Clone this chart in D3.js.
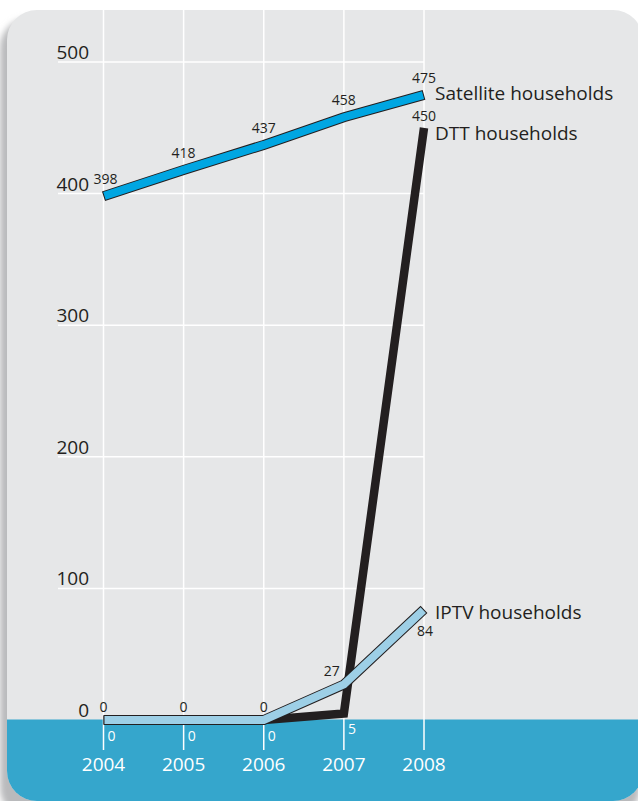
<!DOCTYPE html>
<html>
<head>
<meta charset="utf-8">
<script src="https://cdn.jsdelivr.net/npm/d3@7"></script>
<style>
  html, body { margin: 0; padding: 0; background: #fff; }
  svg { display: block; font-family: "Open Sans", sans-serif; }
</style>
</head>
<body>
<div id="chart"></div>
<script>
// 数据
const years = ["2004", "2005", "2006", "2007", "2008"];
const satellite = [398, 418, 437, 458, 475];
const dtt = [0, 0, 0, 5, 450];
const iptv = [0, 0, 0, 27, 84];
const yTicks = [0, 100, 200, 300, 400, 500];
const seriesNames = ["Satellite households", "DTT households", "IPTV households"];

const width = 638, height = 801;

const svg = d3.select("#chart").append("svg")
    .attr("width", width)
    .attr("height", height);

const defs = svg.append("defs");
defs.append("filter").attr("id", "blur")
    .attr("x", "-20%").attr("y", "-20%").attr("width", "140%").attr("height", "140%")
    .append("feGaussianBlur").attr("stdDeviation", 3);
defs.append("clipPath").attr("id", "panelClip")
    .append("rect")
    .attr("x", 7).attr("y", 10)
    .attr("width", 636).attr("height", 791)
    .attr("rx", 30);

// 比例尺
const x = d3.scalePoint().domain(years).range([103.5, 424]);
const y = d3.scaleLinear().domain([0, 500]).range([720, 62]);

// 背景面板 + 阴影
svg.append("rect")
    .attr("x", 0).attr("y", 18)
    .attr("width", 640).attr("height", 800)
    .attr("rx", 30)
    .attr("fill", "#b9babc")
    .attr("filter", "url(#blur)");

const panel = svg.append("g").attr("clip-path", "url(#panelClip)");
panel.append("rect")
    .attr("x", 7).attr("y", 10)
    .attr("width", 640).attr("height", 800)
    .attr("fill", "#e6e7e8");
panel.append("rect")
    .attr("x", 7).attr("y", y(0) - 0.5)
    .attr("width", 640).attr("height", 100)
    .attr("fill", "#35a6cc");

// 网格线
svg.append("g").selectAll("line.h")
    .data(yTicks.filter(d => d > 0))
    .join("line")
    .attr("x1", 58).attr("x2", x("2008"))
    .attr("y1", d => y(d)).attr("y2", d => y(d))
    .attr("stroke", "#fff").attr("stroke-width", 1.5);

svg.append("g").selectAll("line.v")
    .data(years)
    .join("line")
    .attr("x1", d => x(d)).attr("x2", d => x(d))
    .attr("y1", 10).attr("y2", 750)
    .attr("stroke", "#fff").attr("stroke-width", 1.5);

// Y 轴标签
svg.append("g").selectAll("text")
    .data(yTicks)
    .join("text")
    .attr("x", 89)
    .attr("y", d => y(d) - 3)
    .attr("text-anchor", "end")
    .attr("font-size", 19)
    .attr("fill", "#231f20")
    .text(d => d);

// X 轴标签
svg.append("g").selectAll("text")
    .data(years)
    .join("text")
    .attr("x", d => x(d))
    .attr("y", 771)
    .attr("text-anchor", "middle")
    .attr("font-size", 19)
    .attr("fill", "#fff")
    .text(d => d);

// 带描边的粗线
function drawLine(values, fill, outline) {
    const pts = values.map((v, i) => [x(years[i]), y(v)]);
    const g = svg.append("g");
    g.append("path")
        .attr("d", d3.line()(pts))
        .attr("fill", "none")
        .attr("stroke", outline ? "#231f20" : fill)
        .attr("stroke-width", outline ? 10 : 8.5)
        .attr("stroke-linejoin", "miter")
        .attr("stroke-linecap", "butt");
    if (outline) {
        // 两端缩进一点，让端头也有描边
        const inner = pts.map(p => p.slice());
        const shrink = (a, b) => {
            const dx = b[0] - a[0], dy = b[1] - a[1];
            const len = Math.hypot(dx, dy);
            a[0] += dx / len; a[1] += dy / len;
        };
        shrink(inner[0], pts[1]);
        shrink(inner[inner.length - 1], pts[pts.length - 2]);
        g.append("path")
            .attr("d", d3.line()(inner))
            .attr("fill", "none")
            .attr("stroke", fill)
            .attr("stroke-width", 8)
            .attr("stroke-linejoin", "miter")
            .attr("stroke-linecap", "butt");
    }
}

drawLine(dtt, "#231f20", false);
drawLine(iptv, "#9dcfe6", true);
drawLine(satellite, "#00a6e2", true);

// 数值标签
const labels = svg.append("g").attr("font-size", 14);

labels.selectAll("text.sat")
    .data(satellite)
    .join("text")
    .attr("x", (d, i) => x(years[i]) + (i === 0 ? 2 : 0))
    .attr("y", d => y(d) - 12)
    .attr("text-anchor", "middle")
    .attr("fill", "#231f20")
    .text(d => d);

labels.selectAll("text.iptv")
    .data(iptv)
    .join("text")
    .attr("x", (d, i) => x(years[i]) + (i === 3 ? -12 : (i === 4 ? 1 : 0)))
    .attr("y", (d, i) => i === 4 ? y(d) + 27 : y(d) - 8)
    .attr("text-anchor", "middle")
    .attr("fill", "#231f20")
    .text(d => d);

labels.selectAll("text.dtt")
    .data(dtt)
    .join("text")
    .attr("x", (d, i) => i === 4 ? x(years[i]) : x(years[i]) + 4)
    .attr("y", (d, i) => i === 4 ? y(d) - 7 : y(d) + 21)
    .attr("text-anchor", (d, i) => i === 4 ? "middle" : "start")
    .attr("fill", (d, i) => i === 4 ? "#231f20" : "#fff")
    .text(d => d);

// 系列名称
const lastVals = [satellite[4], dtt[4], iptv[4]];
svg.append("g").selectAll("text")
    .data(seriesNames)
    .join("text")
    .attr("x", x("2008") + 11)
    .attr("y", (d, i) => y(lastVals[i]) + [5, 12, 10][i])
    .attr("font-size", 19)
    .attr("fill", "#231f20")
    .text(d => d);
</script>
</body>
</html>
